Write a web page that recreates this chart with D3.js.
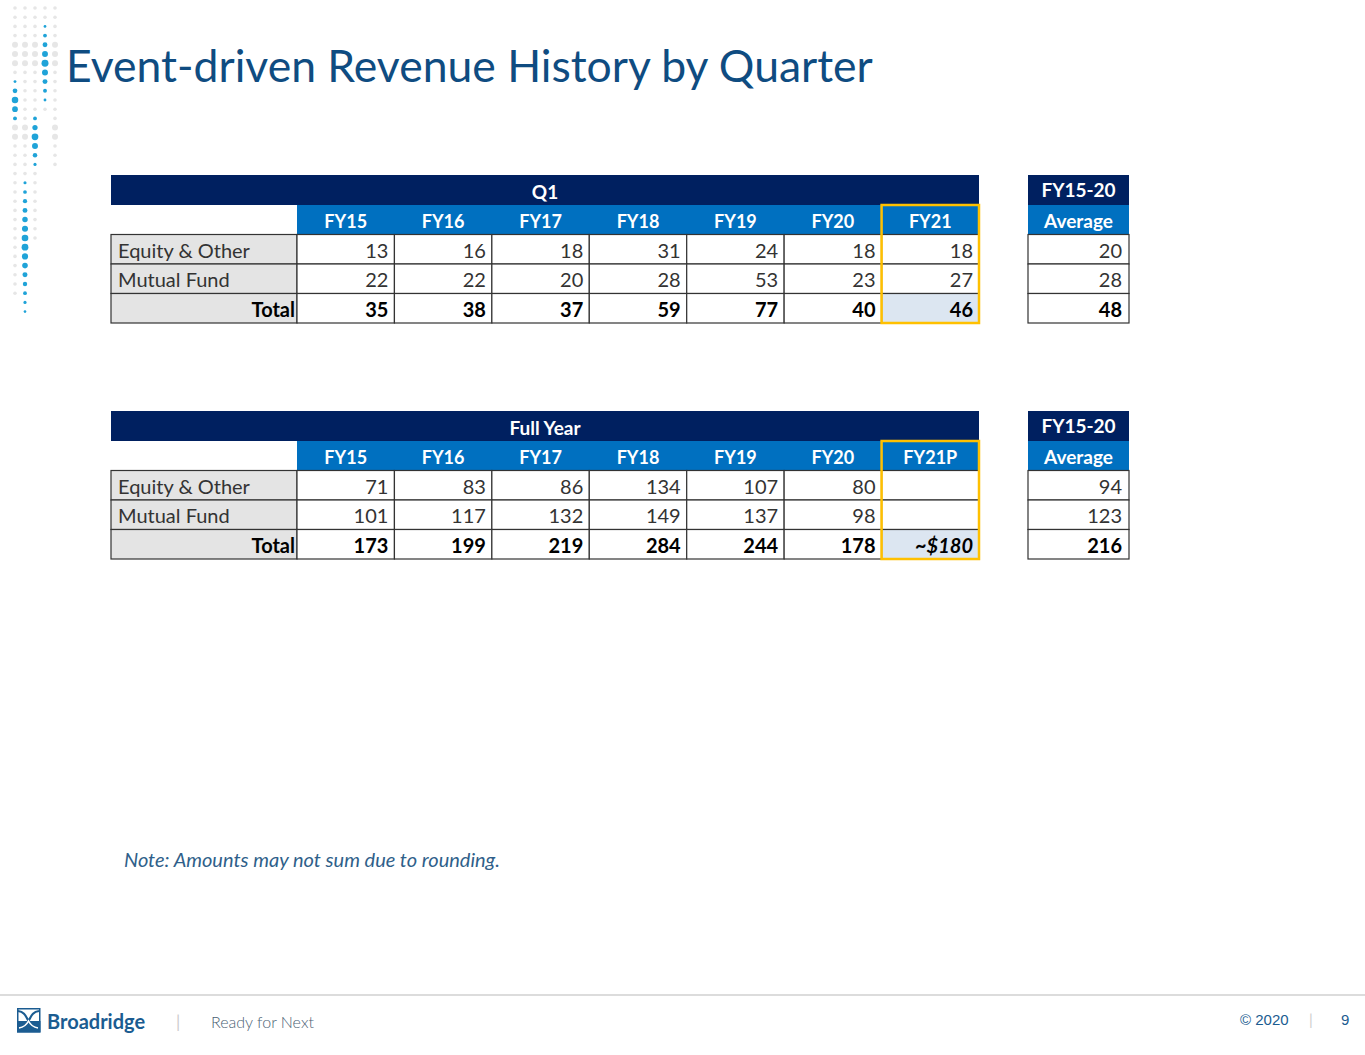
<!DOCTYPE html>
<html>
<head>
<meta charset="utf-8">
<script src="https://cdn.jsdelivr.net/npm/d3@7"></script>
<style>
  body { margin: 0; background: #fff; }
  svg { display: block; font-family: Lato, "Open Sans", sans-serif; }
</style>
</head>
<body>
<svg id="chart" width="1365" height="1055"></svg>
<script>
// ---- data ----
var rowLabels = ["Equity & Other", "Mutual Fund", "Total"]

var q1Years = ["FY15", "FY16", "FY17", "FY18", "FY19", "FY20", "FY21"]
var q1Equity = [13, 16, 18, 31, 24, 18, 18]
var q1Mutual = [22, 22, 20, 28, 53, 23, 27]
var q1Total = [35, 38, 37, 59, 77, 40, 46]
var q1Avg = [20, 28, 48]

var fyYears = ["FY15", "FY16", "FY17", "FY18", "FY19", "FY20", "FY21P"]
var fyEquity = [71, 83, 86, 134, 107, 80, null]
var fyMutual = [101, 117, 132, 149, 137, 98, null]
var fyTotal = [173, 199, 219, 284, 244, 178, "~$180"]
var fyAvg = [94, 123, 216]

var avgTitle = "FY15-20"
var avgSub = "Average"

var navy = "#002060", blue = "#0070c0", gold = "#ffc000"
var grey = "#e4e4e4", lightBlue = "#dce6f1", line = "#333"

var svg = d3.select("#chart")

// title
svg.append("text")
  .attr("x", 66).attr("y", 82)
  .attr("fill", "#0f4c81")
  .attr("font-size", 44.5)
  .text("Event-driven Revenue History by Quarter")

// decorative dots on the left
var dotCols = [
  {x: 15, y0: 8, y1: 300, blue: [80, 125]},
  {x: 25, y0: 8, y1: 312, blue: [175, 312]},
  {x: 35, y0: 8, y1: 240, blue: [110, 168]},
  {x: 45, y0: 8, y1: 110, blue: [25, 102]},
  {x: 55, y0: 8, y1: 170, blue: null}
]
dotCols.forEach(function(c) {
  var ys = d3.range(c.y0, c.y1, 9.2)
  svg.append("g").selectAll("circle").data(ys).join("circle")
    .attr("cx", c.x).attr("cy", function(d) { return d })
    .attr("r", function(d) {
      var isBlue = c.blue && d >= c.blue[0] && d <= c.blue[1]
      if (!isBlue) return (d > 40 && d < 70) || (d > 125 && d < 145) ? 3 : 1.8
      var mid = (c.blue[0] + c.blue[1]) / 2, half = (c.blue[1] - c.blue[0]) / 2
      return 1.3 + 2.2 * (1 - Math.abs(d - mid) / half)
    })
    .attr("fill", function(d) {
      var isBlue = c.blue && d >= c.blue[0] && d <= c.blue[1]
      return isBlue ? "#1fa3d8" : "#e6e6e6"
    })
})

function drawTable(top, title, years, series, avg) {
  var g = svg.append("g")
  var x = d3.scaleBand().domain(years).range([297, 979])
  var rows = ["head"].concat(rowLabels)
  var y = d3.scaleBand().domain(rows).range([top + 30, top + 148])
  var rh = y.bandwidth()

  // top band
  g.append("rect").attr("x", 111).attr("y", top).attr("width", 868).attr("height", 30).attr("fill", navy)
  g.append("text").attr("x", 545).attr("y", top + 24).attr("text-anchor", "middle")
    .attr("fill", "#fff").attr("font-weight", "bold").attr("font-size", 19).text(title)

  // header row
  g.append("rect").attr("x", 297).attr("y", y("head")).attr("width", 682).attr("height", rh).attr("fill", blue)
  g.selectAll(".hd").data(years).join("text")
    .attr("x", function(d) { return x(d) + x.bandwidth() / 2 })
    .attr("y", y("head") + 23)
    .attr("text-anchor", "middle").attr("fill", "#fff").attr("font-weight", "bold").attr("font-size", 18)
    .text(function(d) { return d })

  // label cells + values
  rowLabels.forEach(function(r, i) {
    g.append("rect").attr("x", 111).attr("y", y(r)).attr("width", 186).attr("height", rh)
      .attr("fill", grey).attr("stroke", line).attr("stroke-width", 1.2)
    var isTotal = r == "Total"
    g.append("text")
      .attr("x", isTotal ? 295 : 118).attr("y", y(r) + 23)
      .attr("text-anchor", isTotal ? "end" : "start")
      .attr("font-weight", isTotal ? "bold" : "normal")
      .attr("fill", isTotal ? "#000" : "#333").attr("font-size", 20)
      .text(r)

    var vals = series[i]
    g.selectAll(".c" + i).data(years).join("rect")
      .attr("x", function(d) { return x(d) }).attr("y", y(r))
      .attr("width", x.bandwidth()).attr("height", rh)
      .attr("fill", function(d, j) { return isTotal && j == years.length - 1 ? lightBlue : "#fff" })
      .attr("stroke", line).attr("stroke-width", 1.2)
    g.selectAll(".v" + i).data(vals).join("text")
      .attr("x", function(d, j) { return x(years[j]) + x.bandwidth() - 6 })
      .attr("y", y(r) + 23)
      .attr("text-anchor", "end").attr("font-size", 20)
      .attr("font-weight", isTotal ? "bold" : "normal")
      .attr("font-style", function(d) { return typeof d == "string" ? "italic" : "normal" })
      .attr("fill", isTotal ? "#000" : "#333")
      .text(function(d) { return d == null ? "" : d })
  })

  // gold outline around last column
  var last = years[years.length - 1]
  g.append("rect").attr("x", x(last)).attr("y", y("head"))
    .attr("width", x.bandwidth()).attr("height", top + 148 - y("head"))
    .attr("fill", "none").attr("stroke", gold).attr("stroke-width", 2.5)

  // average block
  var ax = 1028, aw = 101
  g.append("rect").attr("x", ax).attr("y", top).attr("width", aw).attr("height", 30).attr("fill", navy)
  g.append("text").attr("x", ax + aw / 2).attr("y", top + 22).attr("text-anchor", "middle")
    .attr("fill", "#fff").attr("font-weight", "bold").attr("font-size", 19).text(avgTitle)
  g.append("rect").attr("x", ax).attr("y", y("head")).attr("width", aw).attr("height", rh).attr("fill", blue)
  g.append("text").attr("x", ax + aw / 2).attr("y", y("head") + 23).attr("text-anchor", "middle")
    .attr("fill", "#fff").attr("font-weight", "bold").attr("font-size", 19).text(avgSub)
  g.selectAll(".av").data(avg).join("rect")
    .attr("x", ax).attr("y", function(d, i) { return y(rowLabels[i]) })
    .attr("width", aw).attr("height", rh)
    .attr("fill", "#fff").attr("stroke", line).attr("stroke-width", 1.2)
  g.selectAll(".avt").data(avg).join("text")
    .attr("x", ax + aw - 7).attr("y", function(d, i) { return y(rowLabels[i]) + 23 })
    .attr("text-anchor", "end").attr("font-size", 20)
    .attr("font-weight", function(d, i) { return i == 2 ? "bold" : "normal" })
    .attr("fill", function(d, i) { return i == 2 ? "#000" : "#333" })
    .text(function(d) { return d })
}

drawTable(175, "Q1", q1Years, [q1Equity, q1Mutual, q1Total], q1Avg)
drawTable(411, "Full Year", fyYears, [fyEquity, fyMutual, fyTotal], fyAvg)

// note
svg.append("text").attr("x", 124).attr("y", 867)
  .attr("font-size", 20).attr("font-style", "italic").attr("fill", "#2f5f8a")
  .text("Note: Amounts may not sum due to rounding.")

// footer
svg.append("line").attr("x1", 0).attr("x2", 1365).attr("y1", 995).attr("y2", 995)
  .attr("stroke", "#d0d0d0").attr("stroke-width", 1.5)

var logo = svg.append("g").attr("transform", "translate(17,1008)")
logo.append("rect").attr("x", 0.75).attr("y", 0.75).attr("width", 22).attr("height", 23)
  .attr("fill", "#fff").attr("stroke", "#1b5c91").attr("stroke-width", 1.5)
logo.append("rect").attr("y", 13).attr("width", 23.5).attr("height", 11.5).attr("fill", "#1b5c91")
logo.append("path").attr("d", "M1,3 C8,4 9,9 11.5,13 C14,9 15,4 22,3")
  .attr("fill", "none").attr("stroke", "#1b5c91").attr("stroke-width", 2.2)
logo.append("path").attr("d", "M2,20 C8,19 10,16 11.5,13 C13,16 15,19 21,20")
  .attr("fill", "none").attr("stroke", "#fff").attr("stroke-width", 1.6)

svg.append("text").attr("x", 47).attr("y", 1029).attr("font-size", 20).attr("font-weight", "bold")
  .attr("fill", "#1b5c91").text("Broadridge")
svg.append("text").attr("x", 176).attr("y", 1028).attr("font-size", 17).attr("fill", "#ccc").text("|")
svg.append("text").attr("x", 211).attr("y", 1028).attr("font-size", 16).attr("font-weight", 300)
  .attr("fill", "#4a6274").text("Ready for Next")
svg.append("text").attr("x", 1240).attr("y", 1025).attr("font-size", 15)
  .attr("font-family", "Liberation Sans, Arial, sans-serif").attr("fill", "#1b5c91").text("© 2020")
svg.append("text").attr("x", 1309).attr("y", 1025).attr("font-size", 15).attr("fill", "#ccc").text("|")
svg.append("text").attr("x", 1341).attr("y", 1025).attr("font-size", 15)
  .attr("font-family", "Liberation Sans, Arial, sans-serif").attr("fill", "#1b5c91").text("9")
</script>
</body>
</html>
